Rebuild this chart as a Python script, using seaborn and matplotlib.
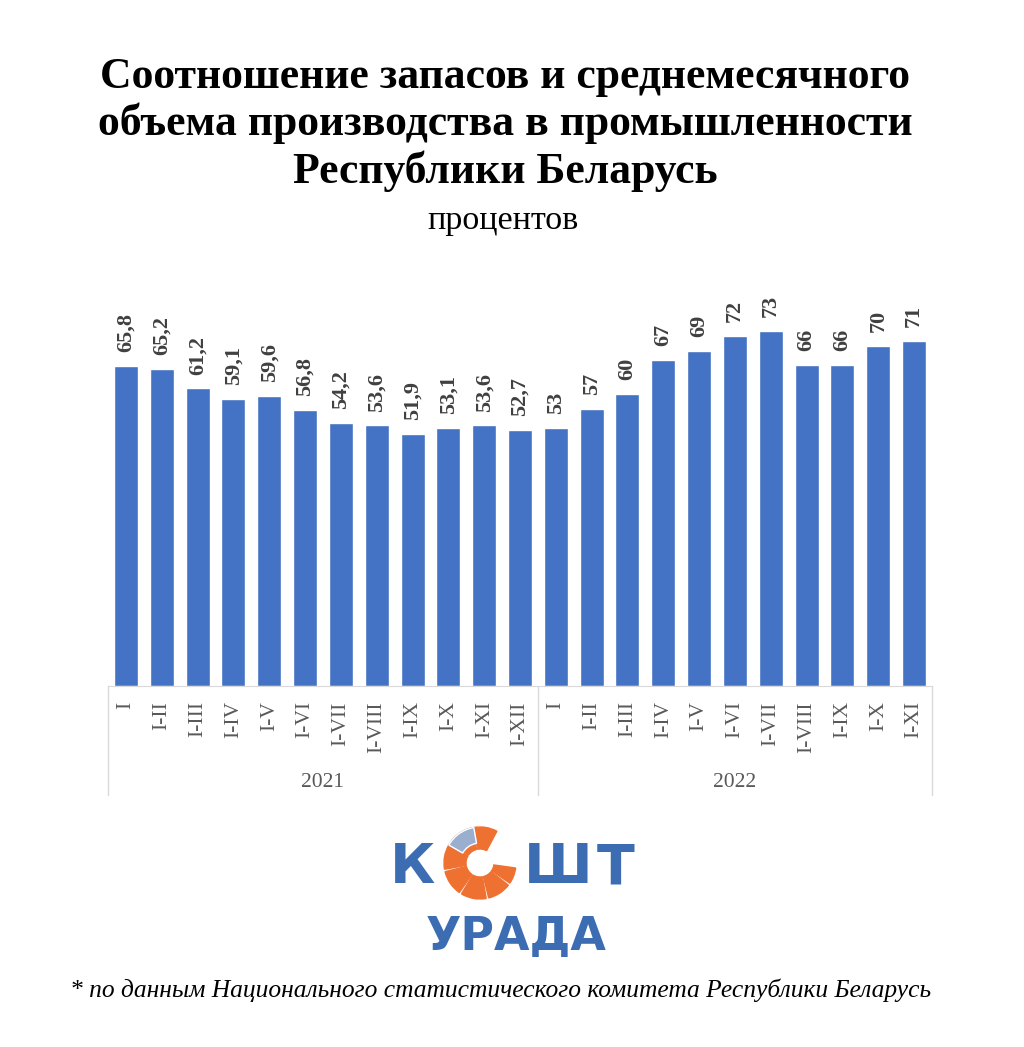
import matplotlib.pyplot as plt
import matplotlib.transforms as mtransforms
from matplotlib.patches import Wedge, Circle
import seaborn as sns
import pandas as pd

# data
years = ["2021", "2022"]
periods_2021 = ["I", "I-II", "I-III", "I-IV", "I-V", "I-VI", "I-VII", "I-VIII", "I-IX", "I-X", "I-XI", "I-XII"]
periods_2022 = ["I", "I-II", "I-III", "I-IV", "I-V", "I-VI", "I-VII", "I-VIII", "I-IX", "I-X", "I-XI"]
values_2021 = [65.8, 65.2, 61.2, 59.1, 59.6, 56.8, 54.2, 53.6, 51.9, 53.1, 53.6, 52.7]
values_2022 = [53, 57, 60, 67, 69, 72, 73, 66, 66, 70, 71]
labels_2021 = ["65,8", "65,2", "61,2", "59,1", "59,6", "56,8", "54,2", "53,6", "51,9", "53,1", "53,6", "52,7"]
labels_2022 = ["53", "57", "60", "67", "69", "72", "73", "66", "66", "70", "71"]

df = pd.DataFrame({
    "key": [f"2021 {p}" for p in periods_2021] + [f"2022 {p}" for p in periods_2022],
    "value": values_2021 + values_2022,
})
periods = periods_2021 + periods_2022
bar_labels = labels_2021 + labels_2022

sns.set_style("white")
plt.rcParams['font.family'] = ['Liberation Serif', 'DejaVu Serif']

fig = plt.figure(figsize=(10.24, 10.47), dpi=100)
W, H = 1024, 1047
ax = fig.add_axes([108 / W, 1 - 686 / H, (932 - 108) / W, (686 - 300) / H])

sns.barplot(data=df, x="key", y="value", color="#4472C4", saturation=1,
            width=0.67, ax=ax)
ax.set_ylim(0, 79.4)
ax.set_xlim(-0.5, len(df) - 0.5)

for i, (v, lab) in enumerate(zip(df["value"], bar_labels)):
    ax.annotate(lab, (i, v), xytext=(0, 10), textcoords="offset points",
                rotation=90, ha="center", va="bottom", fontsize=16,
                fontweight="bold", color="#404040")

ax.set_xticks(range(len(df)))
ax.set_xticklabels(periods, rotation=90, fontsize=15.5, color="#595959", va="top")
ax.tick_params(axis="x", length=0, pad=11)
ax.set_yticks([])
ax.set_xlabel("")
ax.set_ylabel("")
for s in ["top", "right", "left"]:
    ax.spines[s].set_visible(False)
ax.spines["bottom"].set_color("#d9d9d9")

trans = mtransforms.blended_transform_factory(ax.transData, ax.transAxes)
for xb in [-0.5, 11.5, 22.5]:
    ax.plot([xb, xb], [0, -0.282], transform=trans, color="#d9d9d9",
            lw=1, clip_on=False)
ax.text(5.5, -0.251, years[0], transform=trans, ha="center", va="center",
        fontsize=15.5, color="#595959")
ax.text(17, -0.251, years[1], transform=trans, ha="center", va="center",
        fontsize=15.5, color="#595959")

# titles
title_lines = ["Соотношение запасов и среднемесячного",
               "объема производства в промышленности",
               "Республики Беларусь"]
for k, line in enumerate(title_lines):
    fig.text(505 / W, 1 - (88 + 47.5 * k) / H, line, ha="center", va="baseline",
             fontsize=31.5, fontweight="bold", color="black")
fig.text(503 / W, 1 - 229 / H, "процентов", ha="center", va="baseline",
         fontsize=24.5, color="black")

# logo
blue = "#3c6db3"
orange = "#ef7132"
fig.text(413 / W, 1 - 883 / H, "К", ha="center", va="baseline", fontsize=40,
         fontweight="bold", color=blue, family="DejaVu Sans")
fig.text(558 / W, 1 - 883 / H, "Ш", ha="center", va="baseline", fontsize=40,
         fontweight="bold", color=blue, family="DejaVu Sans")
fig.text(616 / W, 1 - 883 / H, "Т", ha="center", va="baseline", fontsize=40,
         fontweight="bold", color=blue, family="DejaVu Sans")
fig.text(516 / W, 1 - 950 / H, "УРАДА", ha="center", va="baseline", fontsize=33,
         fontweight="bold", color=blue, family="DejaVu Sans")
lax = fig.add_axes([440 / W, 1 - 903 / H, 80 / W, 80 / H])
lax.set_xlim(-1, 1)
lax.set_ylim(-1, 1)
lax.set_aspect("equal")
lax.axis("off")
for a0, a1 in [(62, 100), (104, 145), (149, 190), (194, 235), (239, 280), (284, 322), (326, 352)]:
    lax.add_patch(Wedge((0, 0), 0.9, a0, a1, width=0.55, color=orange))
lax.add_patch(Wedge((0, 0), 0.9, 100, 150, width=0.4, color="#9aaed0"))
lax.add_patch(Wedge((0, 0), 0.9, 100, 150, width=0.4, fill=False,
                    edgecolor="white", lw=1))

fig.text(501 / W, 1 - 997 / H,
         "* по данным Национального статистического комитета Республики Беларусь",
         ha="center", va="baseline", fontsize=18.4, style="italic", color="black")

fig.savefig("out.png", dpi=100, facecolor="white")
